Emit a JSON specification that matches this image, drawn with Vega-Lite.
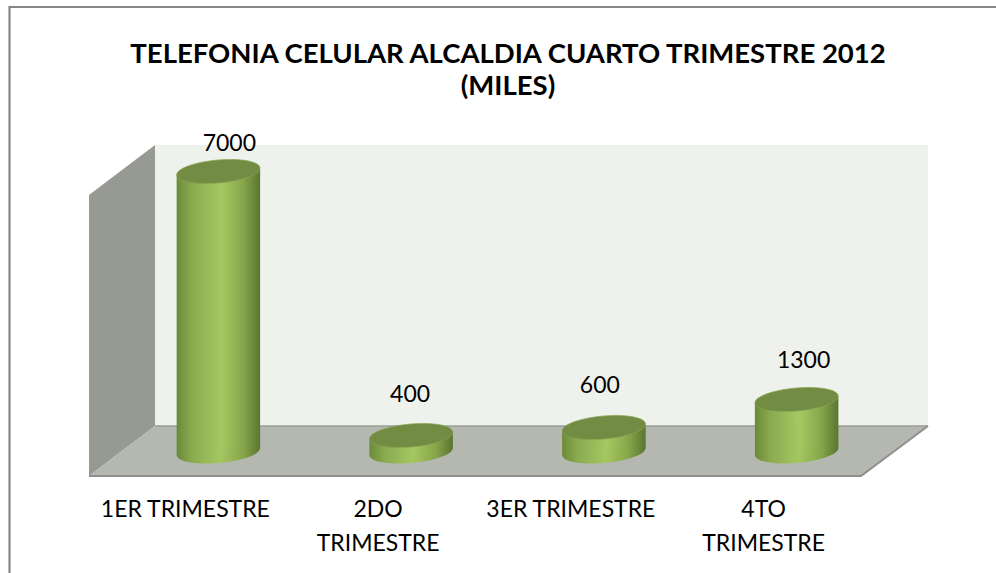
{
"$schema":"https://vega.github.io/schema/vega-lite/v6.json",
"width":996,"height":573,"padding":0,"autosize":"none","background":"white",
"title":{"text":["TELEFONIA CELULAR ALCALDIA CUARTO TRIMESTRE 2012","(MILES)"],"font":"Lato","fontSize":27.5,"fontWeight":"bold","color":"#000000","anchor":"middle","dx":10,"dy":104.5,"lineHeight":32,"baseline":"top"},
"datasets":{
"bars":[{"trimestre":"1ER TRIMESTRE","miles":7000},{"trimestre":"2DO TRIMESTRE","miles":400},{"trimestre":"3ER TRIMESTRE","miles":600},{"trimestre":"4TO TRIMESTRE","miles":1300}],
"leftWall":[{"px":89,"top":195,"bottom":476},{"px":155,"top":145,"bottom":426}],
"backWall":[{"px":155,"top":145,"bottom":426},{"px":928,"top":145,"bottom":426}],
"floor":[{"px":89,"top":476,"bottom":476},{"px":155,"top":426,"bottom":476},{"px":861,"top":426,"bottom":476},{"px":928,"top":426,"bottom":426}],
"floorEdge":[{"px":155,"py":426},{"px":928,"py":426}],
"floorFront":[{"px":89,"py":476},{"px":861,"py":476},{"px":928,"py":426}],
"frame":[{"px":9.5,"py":573,"o":0},{"px":9.5,"py":7,"o":1},{"px":996,"py":7,"o":2}]
},
"config":{"view":{"stroke":null}},
"resolve":{"scale":{"x":"independent","y":"independent"}},
"layer":[
{"encoding":{
"x":{"field":"px","type":"quantitative","scale":{"domain":[0,996],"nice":false,"zero":false},"axis":null},
"y":{"field":"top","type":"quantitative","scale":{"domain":[573,0],"nice":false,"zero":false},"axis":null},
"y2":{"field":"bottom"}},
"layer":[
{"data":{"name":"backWall"},"mark":{"type":"area","color":"#eff2ec","clip":false}},
{"data":{"name":"leftWall"},"mark":{"type":"area","color":"#979a92"}},
{"data":{"name":"floor"},"mark":{"type":"area","color":"#b5b8b0"}},
{"data":{"name":"floorEdge"},"mark":{"type":"line","color":"#9b9d99","strokeWidth":1.5},"encoding":{"y":{"field":"py","type":"quantitative"},"y2":null}},
{"data":{"name":"floorFront"},"mark":{"type":"line","color":"#8f908c","strokeWidth":2},"encoding":{"y":{"field":"py","type":"quantitative"},"y2":null}},
{"data":{"name":"frame"},"mark":{"type":"line","color":"#868686","strokeWidth":2.2},"encoding":{"y":{"field":"py","type":"quantitative"},"y2":null,"order":{"field":"o","type":"ordinal"}}}
]},
{"data":{"name":"bars"},
"encoding":{
"x":{"field":"trimestre","type":"nominal","sort":null,"scale":{"type":"band","paddingInner":0,"paddingOuter":0,"range":[122,893]},
"axis":{"title":null,"orient":"bottom","offset":-90,"domain":false,"ticks":false,"grid":false,"labelAngle":0,"labelFont":"Lato","labelFontSize":23,"labelColor":"#000000","labelPadding":15,"labelOffset":-33,"labelLineHeight":34,"labelOverlap":false,"labelBound":false,"labelFlush":false,"labelLimit":0,
"labelExpr":"datum.label=='1ER TRIMESTRE'||datum.label=='3ER TRIMESTRE'?datum.label:split(datum.label,' ')"}},
"y":{"field":"miles","type":"quantitative","scale":{"domain":[-3037.5,11287.5],"nice":false,"zero":false},"axis":null}},
"layer":[
{"mark":{"type":"point","filled":true,"opacity":1,"size":6972,"shape":"M-.996,.087A1,.27,-5,1,1,.996,-.087A1,.27,-5,1,1,-.996,.087Z",
"color":{"gradient":"linear","x1":0,"y1":0,"x2":1,"y2":0,"stops":[{"offset":0,"color":"#6b8a38"},{"offset":0.18,"color":"#8aaa50"},{"offset":0.52,"color":"#a5c761"},{"offset":0.8,"color":"#86a54a"},{"offset":1,"color":"#5a7530"}]}},
"encoding":{"y":{"datum":0,"type":"quantitative"}}},
{"mark":{"type":"bar","width":42,"xOffset":-20.75,"yOffset":3,"y2Offset":3,
"color":{"gradient":"linear","x1":0,"y1":0,"x2":1,"y2":0,"stops":[{"offset":0,"color":"#6b8a38"},{"offset":0.36,"color":"#8aaa50"},{"offset":1,"color":"#a3c55f"}]}},
"encoding":{"y2":{"datum":0}}},
{"mark":{"type":"bar","width":42,"xOffset":20.75,"yOffset":-3,"y2Offset":-3,
"color":{"gradient":"linear","x1":0,"y1":0,"x2":1,"y2":0,"stops":[{"offset":0,"color":"#a3c55f"},{"offset":0.1,"color":"#a5c761"},{"offset":0.6,"color":"#86a54a"},{"offset":1,"color":"#5a7530"}]}},
"encoding":{"y2":{"datum":0}}},
{"mark":{"type":"point","filled":true,"opacity":1,"size":6972,"color":"#738c44","stroke":"#8aa552","strokeWidth":0.7,"shape":"M-.996,.087A1,.27,-5,1,1,.996,-.087A1,.27,-5,1,1,-.996,.087Z"}},
{"transform":[{"filter":"datum.miles==7000"}],"mark":{"type":"text","font":"Lato","fontSize":23,"color":"#000000","dx":11,"dy":-27.5,"baseline":"middle"},"encoding":{"text":{"field":"miles","type":"quantitative","format":"d"}}},
{"transform":[{"filter":"datum.miles==400"}],"mark":{"type":"text","font":"Lato","fontSize":23,"color":"#000000","dx":-1,"dy":-41,"baseline":"middle"},"encoding":{"text":{"field":"miles","type":"quantitative","format":"d"}}},
{"transform":[{"filter":"datum.miles==600"}],"mark":{"type":"text","font":"Lato","fontSize":23,"color":"#000000","dx":-4,"dy":-41.5,"baseline":"middle"},"encoding":{"text":{"field":"miles","type":"quantitative","format":"d"}}},
{"transform":[{"filter":"datum.miles==1300"}],"mark":{"type":"text","font":"Lato","fontSize":23,"color":"#000000","dx":7,"dy":-38.5,"baseline":"middle"},"encoding":{"text":{"field":"miles","type":"quantitative","format":"d"}}}
]}
]}
